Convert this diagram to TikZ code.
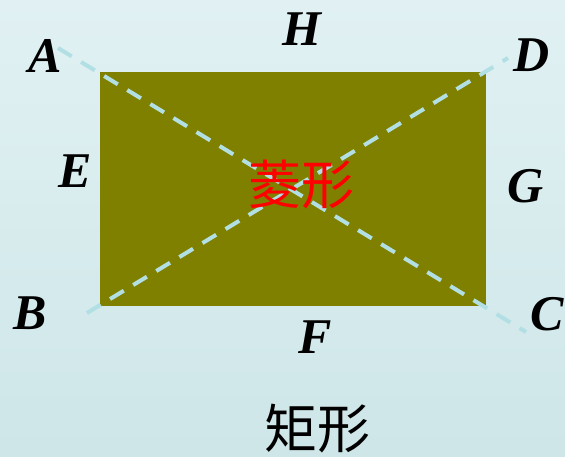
\documentclass[tikz,border=0pt]{standalone}
\usepackage{fontspec}
\setmainfont{Liberation Serif}
\newfontfamily\cjk{Noto Sans CJK SC}
\usepackage{tikz}
\usetikzlibrary{positioning}
\definecolor{bgtop}{HTML}{E1F1F3}
\definecolor{bgbot}{HTML}{CEE6E8}
\definecolor{olivebox}{HTML}{808000}
\definecolor{dashblue}{HTML}{B2DFE3}

\begin{document}
\begin{tikzpicture}[x=1pt, y=-1pt,
      ptlabel/.style={font=\fontsize{50}{50}\selectfont\bfseries\itshape, inner sep=0pt},
      hanzi/.style={font=\fontsize{53}{53}\selectfont\cjk, inner sep=0pt},
      diag/.style={dashblue, line width=4pt, dash pattern=on 16pt off 11pt}]
    % background
    \useasboundingbox (0,0) rectangle (565,456);
    \shade[top color=bgtop, bottom color=bgbot] (0,0) rectangle (565,456);
    % rectangle
    \node[fill=olivebox, minimum width=386pt, minimum height=234pt, inner sep=0pt] (rect) at (293,189) {};
    % ends of the diagonals
    \coordinate (a) at (58,48);
    \coordinate (c) at (526,332);
    \coordinate (b) at (87,313);
    \coordinate (d) at (508,58);
    \draw[diag] (a) -- (c);
    \draw[diag] (b) -- (d);
    % vertex and side labels
    \node[ptlabel] (A) at (45,56) {A};
    \node[ptlabel] (D) at (532,55) {D};
    \node[ptlabel] (B) at (30,313) {B};
    \node[ptlabel] (C) at (547,314) {C};
    \node[ptlabel] (H) at (302,29) {H};
    \node[ptlabel] (E) at (75,171) {E};
    \node[ptlabel] (G) at (526,186) {G};
    \node[ptlabel] (F) at (315,337) {F};
    % names
    \node[hanzi, red] (ling) at (301,185) {菱形};
    \node[hanzi] (ju) at (317,429) {矩形};
\end{tikzpicture}
\end{document}
